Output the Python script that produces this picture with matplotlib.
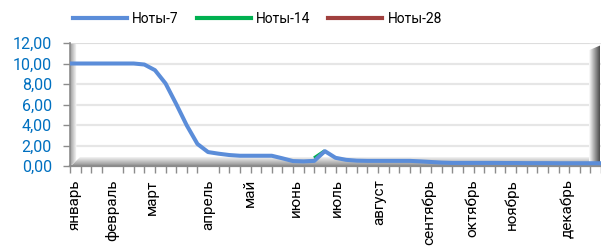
import numpy as np
import matplotlib
matplotlib.use("Agg")
import matplotlib.pyplot as plt
from matplotlib.patches import Polygon
from matplotlib.lines import Line2D

plt.rcParams['font.family'] = ['Roboto', 'DejaVu Sans']

# ---- data ----
notes7 = [10.0, 10.0, 10.0, 10.0, 10.0, 10.0, 10.0, 9.9, 9.35, 8.05,
          6.05, 3.95, 2.15, 1.36, 1.2, 1.07, 1.0, 1.0, 1.0, 1.0,
          0.75, 0.48, 0.45, 0.5, 1.45, 0.8, 0.6, 0.52, 0.5, 0.5,
          0.5, 0.5, 0.5, 0.45, 0.39, 0.33, 0.3, 0.3, 0.3, 0.3,
          0.3, 0.29, 0.29, 0.28, 0.28, 0.28, 0.27, 0.27, 0.27, 0.27, 0.27]
notes14 = [np.nan] * 23 + [0.75, 1.45] + [np.nan] * 26
notes28 = [np.nan] * 51
series_names = ['Ноты-7', 'Ноты-14', 'Ноты-28']
series_colors = ['#5B8DD9', '#00B050', '#A0403E']
month_labels = ['январь', 'февраль', 'март', 'апрель', 'май', 'июнь',
                'июль', 'август', 'сентябрь', 'октябрь', 'ноябрь', 'декабрь']
month_pos = [0.4, 4.0, 7.7, 13.0, 16.9, 21.3, 25.1, 29.1, 33.8, 37.9, 41.6, 46.8]
yticks = [0, 2, 4, 6, 8, 10, 12]

W, H = 601, 248
fig = plt.figure(figsize=(W / 100, H / 100), dpi=100)
px = 10.64  # pixels per category
left_px, bot_px, top_px = 70, 166.0, 43
right_px = 601
ax = fig.add_axes([left_px / W, (H - bot_px) / H, (right_px - left_px) / W, (bot_px - top_px) / H])
xmax = (right_px - left_px) / px
ax.set_xlim(0, xmax)
ax.set_ylim(0, 12)
ax.patch.set_alpha(0)

for s in ['top', 'right']:
    ax.spines[s].set_visible(False)
ax.spines['left'].set_color('#8c8c8c')
ax.spines['left'].set_linewidth(1.2)
ax.spines['bottom'].set_color('#8c8c8c')
ax.spines['bottom'].set_linewidth(1.6)

# gridlines
for yv in yticks[1:]:
    ax.axhline(yv, color='#e6e6e6', lw=1.6, zorder=0.5)

def grad(poly, x0, x1, y0, y1, c0, c1, horizontal=True, z=1):
    n = 256
    t = np.linspace(0, 1, n)
    c0 = np.array(matplotlib.colors.to_rgb(c0)); c1 = np.array(matplotlib.colors.to_rgb(c1))
    cols = c0[None, :] * (1 - t[:, None]) + c1[None, :] * t[:, None]
    if horizontal:
        img = cols[None, :, :]
    else:
        img = cols[:, None, :]
    im = ax.imshow(img, extent=[x0, x1, y0, y1], aspect='auto', zorder=z,
                   interpolation='bilinear', origin='upper')
    p = Polygon(poly, closed=True, transform=ax.transData, facecolor='none', edgecolor='none')
    ax.add_patch(p)
    im.set_clip_path(p)

# left wall
grad([(0, 0), (0.6, 0.5), (0.6, 12), (0, 12)], 0, 0.6, 0, 12, '#9a9a9a', '#ffffff', True, z=0.6)
# floor
grad([(0.1, 0), (xmax, 0), (xmax, 0.9), (0.9, 0.9)], 0, xmax, 0, 0.9, '#ffffff', '#8e8e8e', False, z=0.6)
# right wall
rx0 = (590 - left_px) / px
grad([(rx0, 0.3), (rx0, 11.3), (xmax, 11.75), (xmax, 0.1)], rx0, xmax, 0, 12, '#ffffff', '#4a4a4a', True, z=0.7)
# top edge of back wall
ax.plot([0, rx0], [12, 12], color='#dcdcdc', lw=1.2, zorder=0.7)

x = np.arange(len(notes7))
ax.plot(x, notes14, color=series_colors[1], lw=2.9, solid_capstyle='butt', zorder=3)
ax.plot(x, notes7, color=series_colors[0], lw=2.9, solid_joinstyle='round', zorder=4)
ax.plot(x, notes28, color=series_colors[2], lw=2.9, zorder=3)

ax.set_yticks(yticks)
ax.set_yticklabels([f'{v:.2f}'.replace('.', ',') for v in yticks], color='#0070C0', fontsize=11.5)
ax.tick_params(axis='y', length=5, width=1, color='#8c8c8c', pad=8)

ax.set_xticks(np.arange(0, 51), minor=True)
ax.set_xticks(month_pos)
ax.set_xticklabels(month_labels, rotation=90, fontsize=11, va='top', ha='center')
ax.tick_params(axis='x', which='major', length=0, pad=9.5)
ax.tick_params(axis='x', which='minor', length=5, width=1, color='#8c8c8c')

handles = [Line2D([], [], color=c, lw=3) for c in series_colors]
fig.legend(handles, series_names, loc='center', bbox_to_anchor=(0.428, 0.922), ncol=3,
           frameon=False, fontsize=10, handlelength=3.9, handletextpad=0.36, columnspacing=1.3,
           borderpad=0, borderaxespad=0)

fig.savefig('out.png', dpi=100)
